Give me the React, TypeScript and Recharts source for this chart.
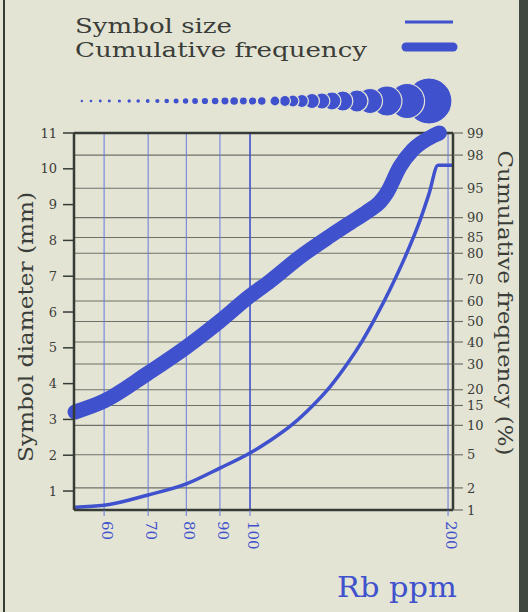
import React from 'react'
import {
  ComposedChart,
  ScatterChart,
  Scatter,
  Line,
  XAxis,
  YAxis,
  CartesianGrid,
  ReferenceLine,
  Legend,
} from 'recharts'

// Rb (ppm) axis ticks, left axis (symbol diameter, mm) ticks, right axis (cumulative %, probability scale) ticks
const X_TICKS = [60, 70, 80, 90, 100, 200]
const SIZE_TICKS = [1, 2, 3, 4, 5, 6, 7, 8, 9, 10, 11]
const PCT_TICKS = [1, 2, 5, 10, 15, 20, 30, 40, 50, 60, 70, 80, 85, 90, 95, 98, 99]

// symbol size curve
const SIZE_RB = [54.2, 60, 70, 80, 90, 100, 107.3, 115.1, 124.6, 132.3, 140.9, 148, 155.4, 163.2, 172.1, 181.3, 187.1, 193.1, 203]
const SIZE_MM = [0.55, 0.6, 0.89, 1.2, 1.64, 2.06, 2.41, 2.81, 3.39, 3.91, 4.58, 5.18, 5.87, 6.63, 7.54, 8.56, 9.3, 10.1, 10.1]

// cumulative frequency curve
const FREQ_RB = [54.2, 60, 70, 80, 90, 100, 107.3, 119.1, 132.3, 141.9, 150.6, 157.6, 161.5, 169, 176.9, 189.7, 194]
const FREQ_PCT = [13.2, 16.3, 26.2, 37.6, 50.2, 62.4, 69.1, 78.7, 85.4, 88.8, 91.2, 93.0, 94.4, 97.2, 98.3, 98.9, 99.0]

// symbol row shown above the plot
const DOT_RB = [55.5, 57.3, 59.2, 61.1, 63.3, 65.5, 67.6, 69.9, 72.3, 74.7, 77.2, 79.8, 82.5, 85.4, 88.5, 91.6, 94.6, 97.7, 100.9, 104.2, 109.1, 113, 116.2, 119.9, 124.2, 128.6, 133.2, 138.4, 145.4, 152.2, 161.5, 173.3, 187.1]
const DOT_MM = [0.52, 0.57, 0.61, 0.65, 0.7, 0.74, 0.78, 0.83, 0.91, 1.0, 1.09, 1.17, 1.26, 1.35, 1.43, 1.52, 1.65, 1.74, 1.83, 1.91, 2.17, 2.39, 2.61, 2.83, 3.26, 3.48, 3.91, 4.35, 4.78, 5.43, 6.52, 7.6, 10.0]

const LEGEND_ORDER = ['Symbol size', 'Cumulative frequency']

const BG = '#e4e4d5'
const INK = '#3a3d38'
const FRAME = '#353b35'
const GRID = '#6f7168'
const BLUE = '#3f51cc'
const BLUE_GRID = '#6678dc'
const FONT = '"DejaVu Serif", serif'
const X_DOMAIN: [number, number] = [54, 203.5]

// inverse normal cdf (Acklam), percent in -> z out
function probit(pct: number): number {
  const p = pct / 100
  const a = [-39.69683028665376, 220.9460984245205, -275.9285104469687, 138.357751867269, -30.66479806614716, 2.506628277459239]
  const b = [-54.47609879822406, 161.5858368580409, -155.6989798598866, 66.80131188771972, -13.28068155288572]
  const c = [-0.007784894002430293, -0.3223964580411365, -2.400758277161838, -2.549732539343734, 4.374664141464968, 2.938163982698783]
  const d = [0.007784695709041462, 0.3224671290700398, 2.445134137142996, 3.754408661907416]
  const tail = (q: number) =>
    (((((c[0] * q + c[1]) * q + c[2]) * q + c[3]) * q + c[4]) * q + c[5]) /
    ((((d[0] * q + d[1]) * q + d[2]) * q + d[3]) * q + 1)
  if (p < 0.02425) return tail(Math.sqrt(-2 * Math.log(p)))
  if (p > 1 - 0.02425) return -tail(Math.sqrt(-2 * Math.log(1 - p)))
  const q = p - 0.5
  const r = q * q
  return (
    ((((((a[0] * r + a[1]) * r + a[2]) * r + a[3]) * r + a[4]) * r + a[5]) * q) /
    (((((b[0] * r + b[1]) * r + b[2]) * r + b[3]) * r + b[4]) * r + 1)
  )
}

const Z_TICKS = PCT_TICKS.map(probit)
const Z_DOMAIN: [number, number] = [probit(1), probit(99)]

const sizeData = SIZE_RB.map((rb, i) => ({ rb, mm: SIZE_MM[i] }))
const freqData = FREQ_RB.map((rb, i) => ({ rb, z: probit(FREQ_PCT[i]) }))
// bigger symbols drawn first so the smaller ones sit on top
const dotData = DOT_RB.map((rb, i) => ({ rb, y: 1, mm: DOT_MM[i] })).reverse()

const XTick = ({ x, y, payload }: any) => (
  <text
    transform={`translate(${x},${y}) rotate(90)`}
    dy={2}
    textAnchor="start"
    fill={BLUE}
    fontSize={15}
    fontFamily={FONT}
  >
    {payload.value}
  </text>
)

const DotShape = ({ cx, cy, payload }: any) => {
  const r = payload.mm * 2.3
  // light rim only where symbols overlap
  return <circle cx={cx} cy={cy} r={r} fill={BLUE} stroke={BG} strokeWidth={r > 4 ? 1.2 : 0} />
}

const renderLegend = ({ payload }: any) => {
  const items = [...(payload || [])].sort(
    (a: any, b: any) => LEGEND_ORDER.indexOf(a.value) - LEGEND_ORDER.indexOf(b.value)
  )
  return (
    <svg width={528} height={70}>
      {items.map((item: any, i: number) => (
        <g key={item.value}>
          <text
            x={75}
            y={33 + i * 24}
            fontSize={21}
            fontFamily={FONT}
            fill={INK}
            textLength={i ? 292 : 157}
            lengthAdjust="spacingAndGlyphs"
          >
            {item.value}
          </text>
          <line
            x1={i ? 406 : 405}
            x2={453}
            y1={22 + i * 25}
            y2={22 + i * 25}
            stroke={item.color}
            strokeWidth={i ? 9 : 3}
            strokeLinecap={i ? 'round' : 'butt'}
          />
        </g>
      ))}
    </svg>
  )
}

export default function App() {
  return (
    <div style={{ position: 'relative', width: 528, height: 612, background: BG, overflow: 'hidden' }}>
      <style>{'body{margin:0;background:' + BG + '}'}</style>
      <div style={{ position: 'absolute', left: 3, top: 0, width: 2, height: 612, background: FRAME }} />
      <div style={{ position: 'absolute', right: 0, top: 0, width: 9, height: 612, background: '#3f4740' }} />

      <div style={{ position: 'absolute', left: 0, top: 0 }}>
        <ComposedChart width={528} height={612} margin={{ top: 133, right: 15, bottom: 0, left: 14 }}>
          <CartesianGrid yAxisId="right" vertical={false} stroke={GRID} strokeWidth={1.1} />
          <XAxis
            dataKey="rb"
            type="number"
            scale="log"
            domain={X_DOMAIN}
            ticks={X_TICKS}
            interval={0}
            height={102}
            axisLine={{ stroke: FRAME, strokeWidth: 2.5 }}
            tickLine={{ stroke: BLUE_GRID, strokeWidth: 1 }}
            tickSize={6}
            tickMargin={5}
            tick={<XTick />}
            label={{
              content: () => (
                <text
                  x={337}
                  y={597}
                  fontSize={27}
                  fontFamily={FONT}
                  fill={BLUE}
                  textLength={120}
                  lengthAdjust="spacingAndGlyphs"
                >
                  Rb ppm
                </text>
              ),
            }}
          />
          <YAxis
            yAxisId="left"
            type="number"
            domain={[0.47, 11]}
            ticks={SIZE_TICKS}
            interval={0}
            width={60}
            axisLine={{ stroke: FRAME, strokeWidth: 2.5 }}
            tickLine={{ stroke: FRAME, strokeWidth: 1.5 }}
            tickSize={11}
            tickMargin={6}
            tick={{ fill: INK, fontSize: 13, fontFamily: FONT }}
            label={{
              content: () => (
                <text
                  transform="translate(33,327) rotate(-90)"
                  textAnchor="middle"
                  fontSize={20}
                  fontFamily={FONT}
                  fill={INK}
                  textLength={270}
                  lengthAdjust="spacingAndGlyphs"
                >
                  Symbol diameter (mm)
                </text>
              ),
            }}
          />
          <YAxis
            yAxisId="right"
            orientation="right"
            type="number"
            domain={Z_DOMAIN}
            ticks={Z_TICKS}
            interval={0}
            width={60}
            axisLine={{ stroke: FRAME, strokeWidth: 2.5 }}
            tickLine={{ stroke: GRID, strokeWidth: 1.2 }}
            tickSize={10}
            tickMargin={4}
            tickFormatter={(_v: number, i: number) => String(PCT_TICKS[i])}
            tick={{ fill: INK, fontSize: 13, fontFamily: FONT }}
            label={{
              content: () => (
                <text
                  transform="translate(498,303) rotate(90)"
                  textAnchor="middle"
                  fontSize={20}
                  fontFamily={FONT}
                  fill={INK}
                  textLength={305}
                  lengthAdjust="spacingAndGlyphs"
                >
                  Cumulative frequency (%)
                </text>
              ),
            }}
          />
          {X_TICKS.map((v) => (
            <ReferenceLine
              key={v}
              x={v}
              yAxisId="right"
              stroke={v === 100 ? BLUE : BLUE_GRID}
              strokeWidth={v === 100 ? 1.6 : 1}
            />
          ))}
          <ReferenceLine yAxisId="right" y={Z_DOMAIN[1]} stroke={FRAME} strokeWidth={2.5} />
          <Legend
            layout="vertical"
            align="center"
            verticalAlign="middle"
            wrapperStyle={{ top: 0, left: 0, width: 528, height: 70 }}
            content={renderLegend}
          />
          <Line
            name="Symbol size"
            yAxisId="left"
            data={sizeData}
            dataKey="mm"
            type="monotone"
            stroke={BLUE}
            strokeWidth={3.5}
            dot={false}
            isAnimationActive={false}
          />
          <Line
            name="Cumulative frequency"
            yAxisId="right"
            data={freqData}
            dataKey="z"
            type="monotone"
            stroke={BLUE}
            strokeWidth={15}
            strokeLinecap="round"
            dot={false}
            isAnimationActive={false}
          />
        </ComposedChart>
      </div>

      <div style={{ position: 'absolute', left: 0, top: 60 }}>
        <ScatterChart width={528} height={82} margin={{ top: 0, right: 75, bottom: 0, left: 74 }}>
          <XAxis dataKey="rb" type="number" scale="log" domain={X_DOMAIN} hide />
          <YAxis dataKey="y" type="number" domain={[0, 2]} hide />
          <Scatter data={dotData} shape={<DotShape />} isAnimationActive={false} />
        </ScatterChart>
      </div>
    </div>
  )
}
